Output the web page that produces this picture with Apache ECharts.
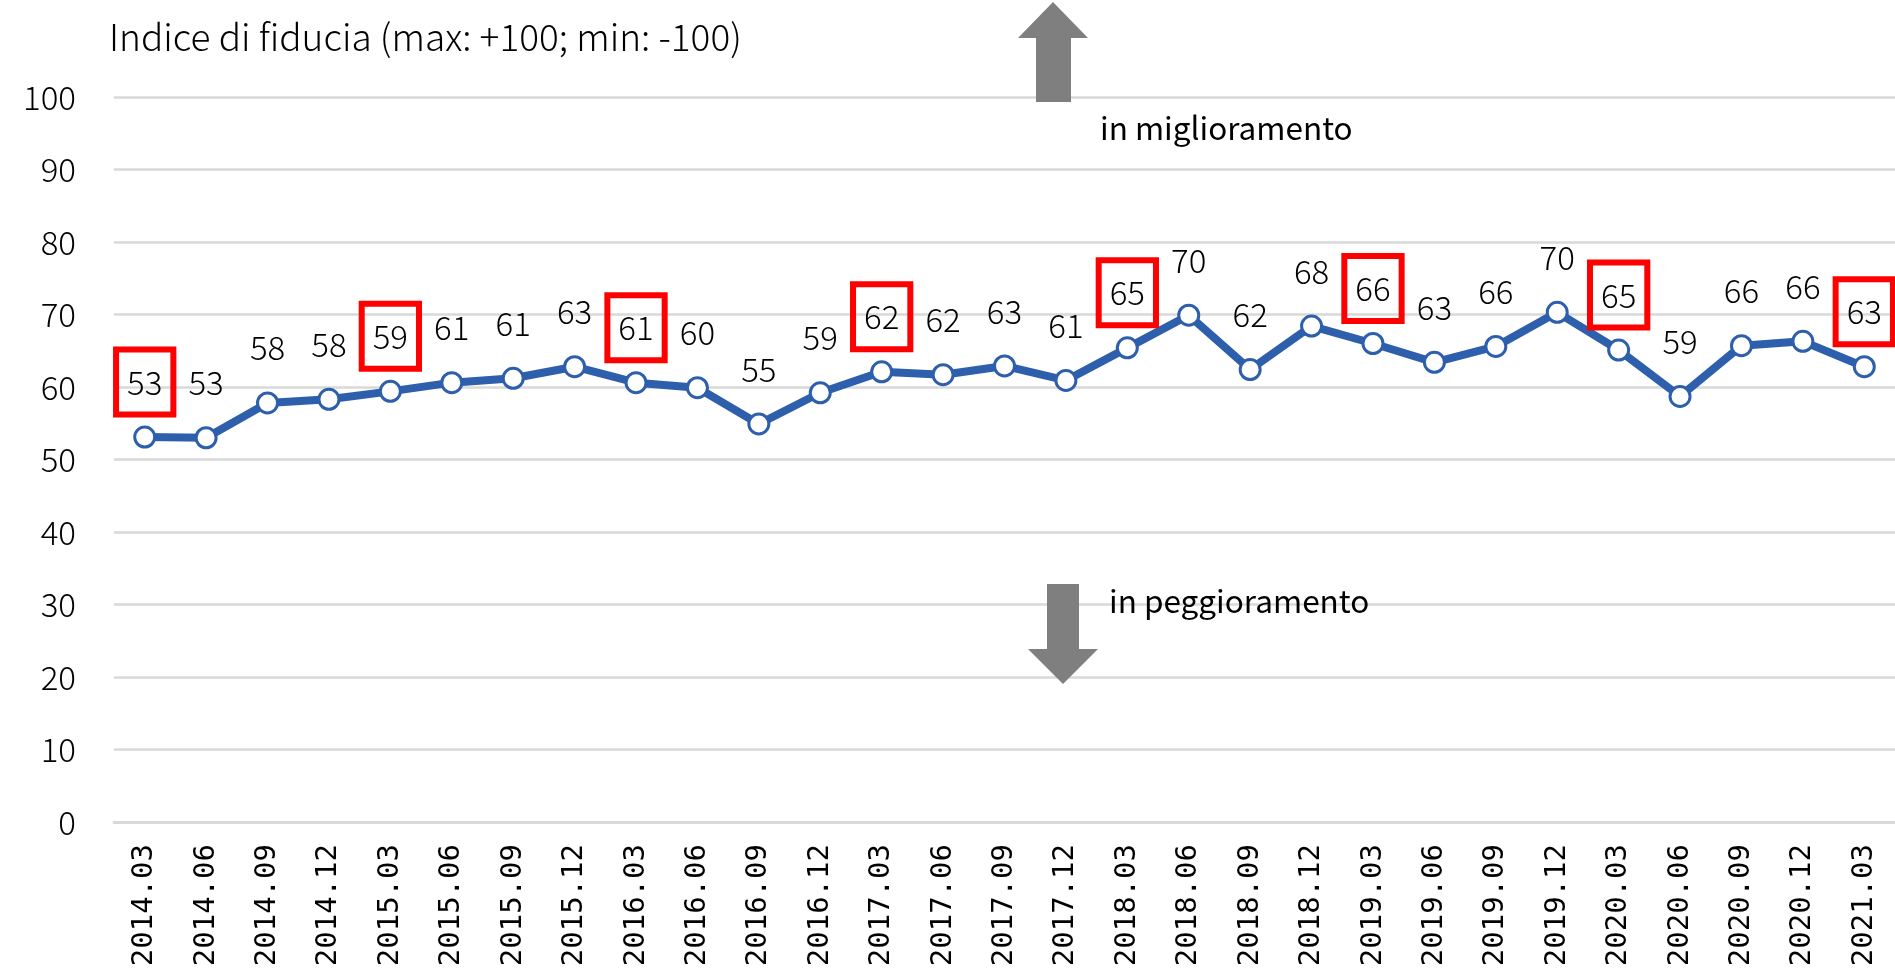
<!DOCTYPE html>
<html>
<head>
<meta charset="utf-8">
<title>Indice di fiducia</title>
<script src="https://cdn.jsdelivr.net/npm/echarts@6/dist/echarts.min.js"></script>
<style>
  html, body { margin: 0; padding: 0; background: #fff; }
  #main { width: 1895px; height: 978px; }
</style>
</head>
<body>
<div id="main"></div>
<script>
var categories = ['2014.03', '2014.06', '2014.09', '2014.12', '2015.03', '2015.06', '2015.09', '2015.12',
  '2016.03', '2016.06', '2016.09', '2016.12', '2017.03', '2017.06', '2017.09', '2017.12',
  '2018.03', '2018.06', '2018.09', '2018.12', '2019.03', '2019.06', '2019.09', '2019.12',
  '2020.03', '2020.06', '2020.09', '2020.12', '2021.03'];
var values = [53.1, 53.0, 57.8, 58.3, 59.4, 60.6, 61.2, 62.8,
  60.6, 59.9, 54.9, 59.2, 62.1, 61.7, 62.9, 60.9,
  65.4, 69.9, 62.4, 68.4, 66.0, 63.4, 65.6, 70.3,
  65.1, 58.7, 65.7, 66.3, 62.8];
var yTicks = [0, 10, 20, 30, 40, 50, 60, 70, 80, 90, 100];
// trimestri evidenziati con il riquadro rosso
var boxed = ['2014.03', '2015.03', '2016.03', '2017.03', '2018.03', '2019.03', '2020.03', '2021.03'];

var font = '"Noto Sans CJK JP", "Noto Sans", sans-serif';
var blue = '#2E5FAC';
var grey = '#D9D9D9';

var seriesData = values.map(function (v, i) {
  var item = { value: v };
  if (boxed.indexOf(categories[i]) >= 0) {
    item.label = {
      borderColor: '#FF0000',
      borderWidth: 6,
      padding: [17, 11, 15, 11]
    };
  }
  return item;
});

var myChart = echarts.init(document.getElementById('main'));
var option = {
  animation: false,
  title: {
    text: 'Indice di fiducia (max: +100; min: -100)',
    left: 104,
    top: 13,
    textStyle: { fontFamily: font, fontSize: 37, fontWeight: 300, color: '#000' }
  },
  grid: { left: 114, right: 0, top: 97, bottom: 156 },
  xAxis: [{
    type: 'category',
    data: categories,
    boundaryGap: true,
    axisLine: { lineStyle: { color: grey, width: 3 } },
    axisTick: { alignWithLabel: true, length: 11, lineStyle: { color: grey, width: 2.5 } },
    axisLabel: {
      rotate: 90,
      margin: 22,
      fontFamily: '"DejaVu Sans Mono", monospace',
      fontSize: 29,
      color: '#000'
    },
    splitLine: { show: false }
  }, {
    type: 'category',
    data: categories,
    position: 'bottom',
    boundaryGap: true,
    axisLine: { show: false },
    axisTick: { alignWithLabel: true, inside: true, length: 11, lineStyle: { color: grey, width: 2.5 } },
    axisLabel: { show: false }
  }],
  yAxis: {
    type: 'value',
    min: yTicks[0],
    max: yTicks[yTicks.length - 1],
    interval: yTicks[1] - yTicks[0],
    axisLine: { show: false },
    axisTick: { show: false },
    axisLabel: { margin: 38, fontFamily: font, fontSize: 33, fontWeight: 300, color: '#000' },
    splitLine: { lineStyle: { color: grey, width: 2.5 } }
  },
  graphic: [
    {
      type: 'polygon', z: 100,
      shape: { points: [[1053, 2], [1088, 38], [1071, 38], [1071, 102], [1036, 102], [1036, 38], [1018, 38]] },
      style: { fill: '#7F7F7F' }
    },
    {
      type: 'polygon', z: 100,
      shape: { points: [[1047, 584], [1079, 584], [1079, 649], [1098, 649], [1063, 684], [1028, 649], [1047, 649]] },
      style: { fill: '#7F7F7F' }
    },
    {
      type: 'text', z: 100, x: 1100, y: 128,
      style: { text: 'in miglioramento', font: '31.5px ' + font, fill: '#000', verticalAlign: 'middle' }
    },
    {
      type: 'text', z: 100, x: 1109, y: 601,
      style: { text: 'in peggioramento', font: '31.5px ' + font, fill: '#000', verticalAlign: 'middle' }
    }
  ],
  series: [{
    type: 'line',
    data: seriesData,
    symbol: 'circle',
    symbolSize: 20,
    lineStyle: { color: blue, width: 8 },
    itemStyle: { color: '#fff', borderColor: blue, borderWidth: 3 },
    label: {
      show: true,
      position: 'inside',
      offset: [0, -55],
      fontFamily: font,
      fontSize: 33,
      fontWeight: 300,
      color: '#000',
      formatter: function (p) { return Math.round(p.value); }
    },
    z: 5
  }]
};
myChart.setOption(option, true);
</script>
</body>
</html>
